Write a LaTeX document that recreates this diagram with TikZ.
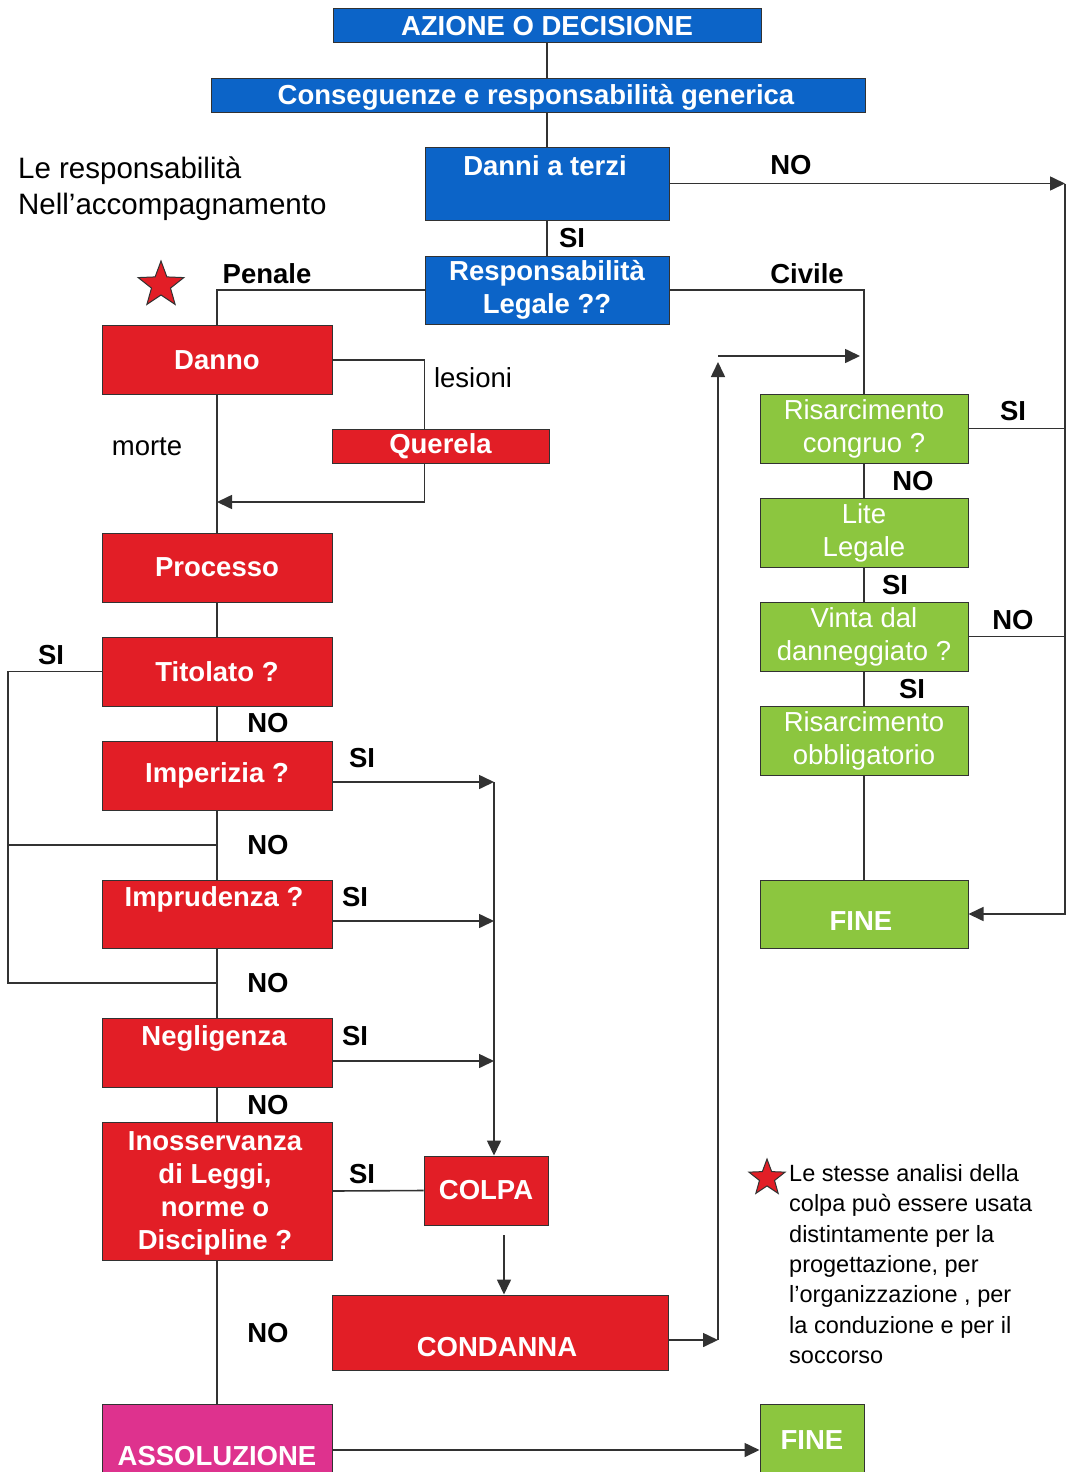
\documentclass[tikz,border=0pt]{standalone}
\usepackage{fontspec}
\setmainfont{Liberation Sans}
\usepackage{xcolor}
\usepackage{tikz}
\usetikzlibrary{arrows.meta}
\usetikzlibrary{shapes.geometric}
\definecolor{ribbon}{RGB}{12,100,200}
\definecolor{brick}{RGB}{226,30,38}
\definecolor{meadow}{RGB}{140,198,63}
\definecolor{fuchsia}{RGB}{222,50,142}
\definecolor{ink}{RGB}{50,50,50}

\begin{document}
\begin{tikzpicture}[x=1pt,y=-1pt]
	\tikzstyle{box} = [draw=ink, line width=1pt, inner sep=0pt, text=white, align=center, font=\fontsize{27.5}{33}\selectfont\bfseries]
	\tikzstyle{bluebox} = [box, fill=ribbon]
	\tikzstyle{redbox} = [box, fill=brick, minimum width=230pt, minimum height=69pt]
	\tikzstyle{greenbox} = [box, fill=meadow, minimum width=208pt, minimum height=69pt, font=\fontsize{27.5}{33}\selectfont]
	\tikzstyle{wtext} = [text=white, inner sep=0pt, font=\fontsize{27.5}{33}\selectfont\bfseries]
	\tikzstyle{tag} = [inner sep=0pt, font=\fontsize{27.5}{33}\selectfont\bfseries]
	\tikzstyle{plain} = [inner sep=0pt, font=\fontsize{27.5}{33}\selectfont]
	\tikzstyle{wire} = [draw=ink, line width=1.6pt]
	\tikzstyle{arr} = [wire, -{Triangle[length=15pt,width=14pt]}]
	\tikzstyle{redstar} = [star, star points=5, star point ratio=2.4, draw=ink, fill=brick, line width=1pt, inner sep=0pt]

	% Page
	\fill[white] (0,0) rectangle (1075,1472);
	\useasboundingbox (0,0) rectangle (1075,1472);

	% Blue head
	\node[bluebox, minimum width=428pt, minimum height=34pt] (azione) at (547,26) {AZIONE O DECISIONE};
	\node[bluebox, minimum width=654pt, minimum height=34pt] (conseg) at (538,95) {};
	\node[wtext] (consegtxt) at (536,97) {Conseguenze e responsabilità generica};
	\node[bluebox, minimum width=244pt, minimum height=73pt] (danni) at (547,183.5) {};
	\node[wtext] (dannitxt) at (545,166) {Danni a terzi};
	\node[bluebox, minimum width=244pt, minimum height=68pt] (resp) at (547,290) {Responsabilità\\Legale ??};

	% Penale column
	\node[redbox] (danno) at (217,360) {Danno};
	\node[redbox, minimum width=217pt, minimum height=34pt] (querela) at (440.5,446) {Querela};
	\node[redbox] (processo) at (217,567.5) {Processo};
	\node[redbox] (titolo) at (217,671.5) {Titolato ?};
	\node[redbox] (imper) at (217,775.5) {Imperizia ?};
	\node[redbox, minimum height=68pt] (imprud) at (217,914) {};
	\node[wtext] (imprudtxt) at (214,899) {Imprudenza ?};
	\node[redbox] (neglig) at (217,1052.5) {};
	\node[wtext] (negligtxt) at (214,1038) {Negligenza};
	\node[redbox, minimum height=138pt] (inoss) at (217,1191) {};
	\node[wtext, align=center] (insstxt) at (215,1193) {Inosservanza\\di Leggi,\\norme o\\Discipline ?};
	\node[redbox, minimum width=124pt] (colpa) at (486,1190.5) {COLPA};
	\node[redbox, minimum width=336pt, minimum height=75pt] (condanna) at (500,1332.5) {};
	\node[wtext] (condannatxt) at (497,1347) {CONDANNA};
	\node[box, fill=fuchsia, minimum width=230pt, minimum height=104pt] (assol) at (217,1456) {ASSOLUZIONE};

	% Civile column
	\node[greenbox] (risc) at (864,428.5) {Risarcimento\\congruo ?};
	\node[greenbox] (lite) at (864,532.5) {Lite\\Legale};
	\node[greenbox] (vinta) at (864,636.5) {Vinta dal\\danneggiato ?};
	\node[greenbox] (obblig) at (864,740.5) {Risarcimento\\obbligatorio};
	\node[greenbox, minimum height=68pt] (finer) at (864,914) {};
	\node[wtext] (finertxt) at (861,921) {FINE};
	\node[box, fill=meadow, minimum width=104pt, minimum height=72pt] (fineb) at (812,1440) {FINE};

	% Texts
	\node[plain, anchor=north west, align=left, font=\fontsize{29.5}{36}\selectfont] (intro) at (18,157) {Le responsabilità\\Nell’accompagnamento};
	\node[plain, anchor=north west, align=left, font=\fontsize{23.5}{30.4}\selectfont] (nota) at (789,1164) {Le stesse analisi della\\colpa può essere usata\\distintamente per la\\progettazione, per\\l’organizzazione , per\\la conduzione e per il\\soccorso};
	\node[redstar, minimum size=48pt] (star1) at (161,285) {};
	\node[redstar, minimum size=38pt] (star2) at (767,1178) {};

	\node[tag] (penale) at (267,274) {Penale};
	\node[tag] (civile) at (807,274) {Civile};
	\node[plain] (lesioni) at (473,378) {lesioni};
	\node[plain] (morte) at (147,447) {morte};

	\foreach \px/\py/\t [count=\i] in {791/165/NO, 572/238/SI, 1013/411/SI, 913/481/NO, 895/585/SI, 1013/620/NO, 912/689/SI, 51/655/SI, 268/723/NO, 362/758/SI, 268/845/NO, 355/897/SI, 268/983/NO, 355/1036/SI, 268/1105/NO, 362/1174/SI, 268/1333/NO}
	{
		\node[tag] (tag\i) at (\px,\py) {\t};
	}

	% Connectors
	\coordinate (ne) at (1065,183.5);
	\coordinate (sxa) at (8,845);
	\coordinate (sxb) at (8,983);
	\coordinate (join) at (217,502);
	\coordinate (c1) at (494,782);
	\coordinate (c2) at (494,921);
	\coordinate (c3) at (494,1061);
	\coordinate (cd) at (504,1235);
	\coordinate (up) at (718,1340);
	\coordinate (uptop) at (718,362);
	\coordinate (civ) at (860,356);
	\coordinate (fb) at (755,1450);

	\draw[wire] (azione.south) -- (azione.south |- conseg.north);
	\draw[wire] (conseg.south -| danni.north) -- (danni.north);
	\draw[wire] (danni) -- (resp);
	\draw[arr] (danni.east) -- (ne);
	\draw[arr] (ne) |- (finer.east);
	\draw[wire] (risc.east) -- (risc.east -| ne);
	\draw[wire] (vinta.east) -- (vinta.east -| ne);

	\draw[wire] (resp.west) -| (danno.north);
	\draw[wire] (resp.east) -| (risc.north);
	\draw[wire] (danno.east) -| (resp.west |- querela.north);
	\draw[arr] (querela.south -| resp.west) |- (join);

	\foreach \a/\b in {danno/processo, processo/titolo, titolo/imper, imper/imprud, imprud/neglig, neglig/inoss, inoss/assol, risc/lite, lite/vinta, vinta/obblig, obblig/finer}
	{
		\draw[wire] (\a) -- (\b);
	}

	\draw[wire] (titolo.west) -| (sxb) -- (sxb -| imprud);
	\draw[wire] (sxa) -- (sxa -| imper);

	\draw[arr] (imper.east |- c1) -- (c1);
	\draw[arr] (imprud.east |- c2) -- (c2);
	\draw[arr] (neglig.east |- c3) -- (c3);
	\draw[arr] (c1) -- (c1 |- colpa.north);
	\draw[wire] (inoss.east) -- (colpa.west);
	\draw[arr] (cd) -- (cd |- condanna.north);

	\draw[arr] (condanna.east |- up) -- (up);
	\draw[arr] (up) -- (uptop);
	\draw[arr] (uptop |- civ) -- (civ);
	\draw[arr] (assol.east |- fb) -- (fb -| fineb.west);
\end{tikzpicture}
\end{document}
